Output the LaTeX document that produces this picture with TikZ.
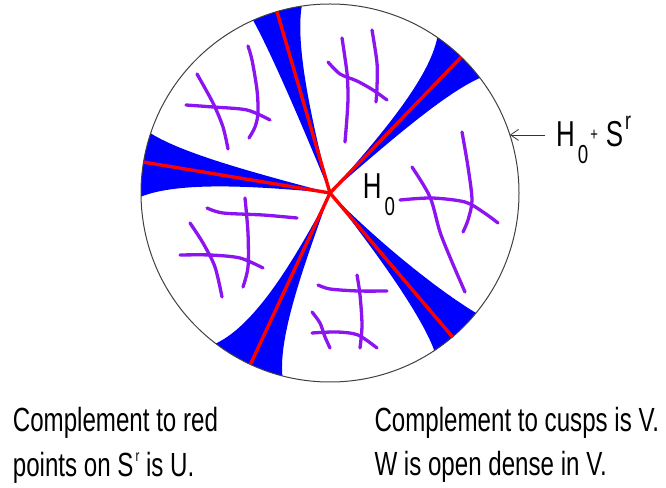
\documentclass[tikz,border=0pt]{standalone}
\usepackage{fontspec}
\newfontfamily\agency[FakeStretch=0.72]{Liberation Sans}
\usetikzlibrary{arrows.meta}
\definecolor{CuspBlue}{RGB}{0,0,255}
\definecolor{RayRed}{RGB}{255,0,0}
\definecolor{HatchViolet}{RGB}{140,20,240}
\newcommand\hoist[3]{\raisebox{#1}{\fontsize{#2}{#2}\selectfont #3}}

\begin{document}
\begin{tikzpicture}[x=1pt,y=1pt,
  every node/.style={font=\agency,inner sep=0pt},
  cusp/.style={fill=CuspBlue},
  ray/.style={RayRed,line width=3.4pt},
  rim/.style={black!75,line width=1pt},
  hatch/.style={HatchViolet,line width=3.3pt,line cap=round},
  pointer/.style={black!80,line width=0.8pt,-{Straight Barb[length=8pt,width=11pt]}},
  note/.style={anchor=base west,align=left,font=\agency\fontsize{33.5}{44.5}\selectfont}]
\useasboundingbox (0,0) rectangle (666,487);
\coordinate (O) at (330,294);
\def\R{189}
\begin{scope}[shift={(O)}]
\foreach \t/\a/\b/\c/\d/\e/\f in {106.3/6/6.5/7.7/-2/-3/-7.7, 46/2.5/3/9.4/-5/-5/-8.5,
    170.6/4/5/10.5/-5.5/-5.5/-9, 245.1/5/5/10.3/-3/-4.5/-12.3, 310.4/4/8/10.2/-2.5/-3.5/-6.9}
  \fill[cusp] (0,0) .. controls ({\t+\a}:{0.4*\R}) and ({\t+\b}:{0.8*\R}) .. ({\t+\c}:\R)
    arc[start angle={\t+\c},end angle={\t+\f},radius=\R]
    .. controls ({\t+\e}:{0.8*\R}) and ({\t+\d}:{0.4*\R}) .. (0,0) -- cycle;
\coordinate (touch) at (17.9:\R);
\end{scope}
\draw[rim] (O) circle[radius=\R];
\foreach \t in {106.3,46,170.6,245.1,310.4}
  \draw[ray] (O) -- ++(\t:\R);

\draw[hatch] plot[smooth] coordinates {(248,441) (252,427) (257,397) (258,374) (255,360) (249,349)};
\draw[hatch] plot[smooth] coordinates {(197,413) (213,384) (223,360) (228,338)};
\draw[hatch] plot[smooth] coordinates {(186,382) (213,380) (247,377) (270,367)};
\draw[hatch] plot[smooth] coordinates {(342,449) (347,414) (348,390) (347,370) (345,345)};
\draw[hatch] plot[smooth] coordinates {(372,457) (377,424) (377,400) (376,385)};
\draw[hatch] plot[smooth] coordinates {(328,425) (340,413) (357,406) (373,397) (387,387)};
\draw[hatch] plot[smooth] coordinates {(462,355) (468,320) (472,287) (468,267) (463,255)};
\draw[hatch] plot[smooth] coordinates {(412,320) (430,290) (440,255) (452,225) (465,195)};
\draw[hatch] plot[smooth] coordinates {(400,287) (432,289) (465,285) (483,275) (498,264)};
\draw[hatch] plot[smooth] coordinates {(318,202) (330,198) (358,196) (387,196)};
\draw[hatch] plot[smooth] coordinates {(357,212) (360,192) (362,162) (360,139)};
\draw[hatch] plot[smooth] coordinates {(312,175) (320,164) (325,150) (330,139)};
\draw[hatch] plot[smooth] coordinates {(312,154) (337,155) (358,152) (377,139)};
\draw[hatch] plot[smooth] coordinates {(207,279) (223,274) (263,272) (297,269)};
\draw[hatch] plot[smooth] coordinates {(245,289) (248,254) (248,220) (243,200)};
\draw[hatch] plot[smooth] coordinates {(190,264) (203,244) (215,220) (222,190)};
\draw[hatch] plot[smooth] coordinates {(180,232) (210,232) (240,229) (263,219)};

\node[anchor=base west] (h0) at (362.7,288.7) {\fontsize{36}{36}\selectfont H\kern3pt\hoist{-17pt}{26}{0}};
\node[anchor=base west,inner xsep=11pt] (lbl) at (545,340.3)
  {\fontsize{36}{36}\selectfont H\kern3pt\hoist{-17pt}{26}{0}\kern2pt\hoist{6pt}{18}{+}\kern8pt S\kern2pt\hoist{17pt}{25}{r}};
\draw[pointer] (lbl.west |- touch) -- (touch);

\node[note] (noteU) at (12.7,10.8) {Complement to red\\points on S\kern2pt\hoist{15pt}{16}{r} is U.};
\node[note] (noteV) at (374.3,11.5) {Complement to cusps is V.\\W is open dense in V.};
\end{tikzpicture}
\end{document}
